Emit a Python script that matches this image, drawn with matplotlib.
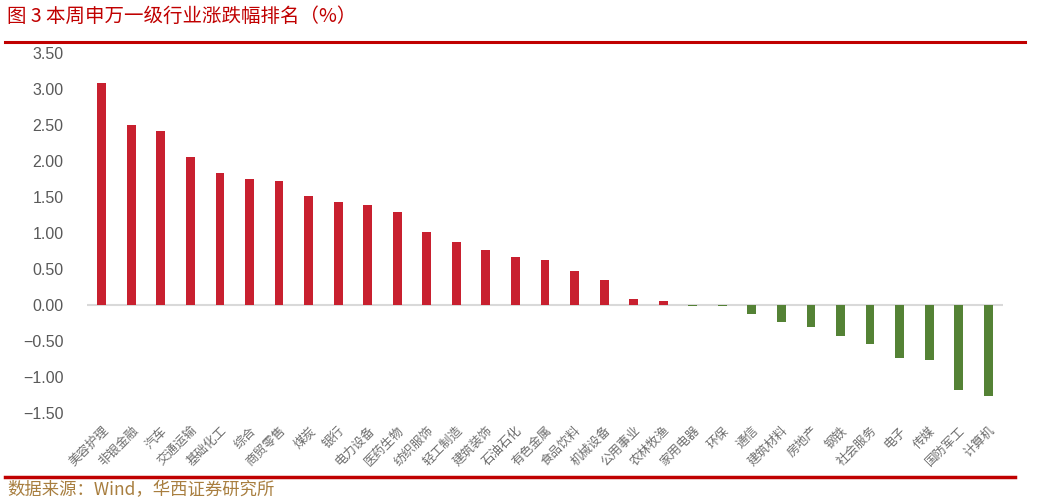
import matplotlib
matplotlib.use("Agg")
import matplotlib.pyplot as plt
from matplotlib.lines import Line2D

plt.rcParams['font.family'] = ['Noto Sans CJK SC', 'DejaVu Sans']

categories = ["美容护理", "非银金融", "汽车", "交通运输", "基础化工", "综合", "商贸零售", "煤炭",
              "银行", "电力设备", "医药生物", "纺织服饰", "轻工制造", "建筑装饰", "石油石化", "有色金属",
              "食品饮料", "机械设备", "公用事业", "农林牧渔", "家用电器", "环保", "通信", "建筑材料",
              "房地产", "钢铁", "社会服务", "电子", "传媒", "国防军工", "计算机"]
values = [3.08, 2.50, 2.42, 2.06, 1.83, 1.75, 1.72, 1.51,
          1.43, 1.39, 1.29, 1.01, 0.87, 0.76, 0.67, 0.62,
          0.47, 0.35, 0.08, 0.06, -0.01, -0.01, -0.12, -0.24,
          -0.31, -0.43, -0.54, -0.74, -0.76, -1.18, -1.26]
yticks = [3.5, 3.0, 2.5, 2.0, 1.5, 1.0, 0.5, 0.0, -0.5, -1.0, -1.5]

title = "图 3 本周申万一级行业涨跌幅排名（%）"
source = "数据来源：Wind，华西证券研究所"

RED = "#C8202F"
GREEN = "#548235"

W, H = 1053, 504
fig = plt.figure(figsize=(W / 100, H / 100), dpi=100)
ax = fig.add_axes([87 / W, 1 - 413 / H, (1003 - 87) / W, (413 - 53) / H])

x = list(range(len(categories)))
colors = [RED if v >= 0 else GREEN for v in values]
ax.bar(x, values, width=0.3, color=colors, zorder=3)
ax.axhline(0, color="#D9D9D9", linewidth=1.5, zorder=2)

ax.set_xlim(-0.5, len(categories) - 0.5)
ax.set_ylim(-1.5, 3.5)
ax.set_yticks(yticks)
ax.set_yticklabels([f"{t:.2f}".replace("-", "−") for t in yticks],
                   fontsize=11.5, color="#595959", family=["Liberation Sans", "DejaVu Sans"])
ax.tick_params(axis="y", length=0, pad=17)
ax.set_xticks(x)
ax.set_xticklabels(categories, rotation=45, ha="right", va="top",
                   rotation_mode="anchor", fontsize=9, color="#6E6E6E")
ax.tick_params(axis="x", length=0, pad=8)
for s in ax.spines.values():
    s.set_visible(False)

fig.text(7 / W, 1 - 16 / H, title, fontsize=14, color="#C00000", va="center", ha="left")
fig.add_artist(Line2D([5 / W, 1025 / W], [1 - 42 / H, 1 - 42 / H], color="#C00000",
                      linewidth=2.2, transform=fig.transFigure))
fig.add_artist(Line2D([5 / W, 1015 / W], [1 - 477 / H, 1 - 477 / H], color="#C00000",
                      linewidth=2.5, transform=fig.transFigure))
fig.text(7 / W, 1 - 490 / H, source, fontsize=12.5, color="#A87E3F", va="center", ha="left")

fig.savefig("out.png", dpi=100)
